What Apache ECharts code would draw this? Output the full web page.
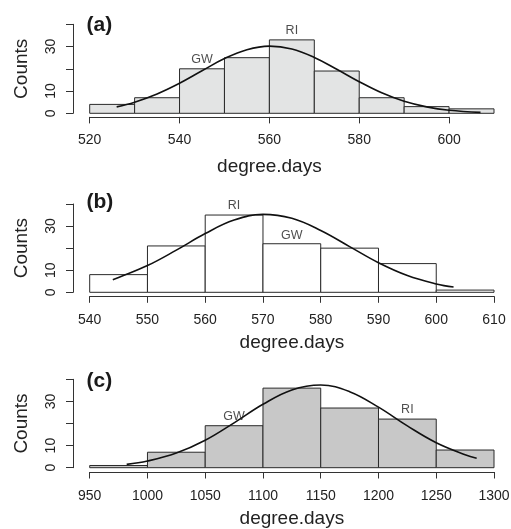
<!DOCTYPE html>
<html>
<head>
<meta charset="utf-8">
<script src="https://cdn.jsdelivr.net/npm/echarts@6/dist/echarts.min.js"></script>
<style>
html,body{margin:0;padding:0;background:#fff;}
#chart{width:511px;height:529px;}
</style>
</head>
<body>
<div id="chart"></div>
<script>
// ---- Data ----
// Panel (a)
const binsA   = [520, 530, 540, 550, 560, 570, 580, 590, 600, 610];
const countsA = [4, 7, 20, 25, 33, 19, 7, 3, 2];
const curveXA = [526, 530, 535, 540, 545, 550, 555, 560, 565, 570, 575, 580, 585, 590, 595, 600, 607];
const curveYA = [2.9, 5.0, 8.7, 13.5, 19.1, 24.6, 28.6, 30.2, 28.9, 25.1, 19.8, 14.2, 9.2, 5.4, 2.9, 1.4, 0.4];
const notesA  = [{name: 'GW', x: 545, y: 24}, {name: 'RI', x: 565, y: 37.1}];
const ticksA  = [520, 540, 560, 580, 600];

// Panel (b)
const binsB   = [540, 550, 560, 570, 580, 590, 600, 610];
const countsB = [8, 21, 35, 22, 20, 13, 1];
const curveXB = [544, 545, 550, 555, 560, 565, 570, 575, 580, 585, 590, 595, 600, 603];
const curveYB = [5.7, 6.7, 12.1, 19.1, 26.6, 32.7, 35.3, 33.5, 28.0, 20.7, 13.4, 7.6, 3.8, 2.4];
const notesB  = [{name: 'RI', x: 565, y: 39.2}, {name: 'GW', x: 575, y: 25.9}];
const ticksB  = [540, 550, 560, 570, 580, 590, 600, 610];

// Panel (c)
const binsC   = [950, 1000, 1050, 1100, 1150, 1200, 1250, 1300];
const countsC = [1, 7, 19, 36, 27, 22, 8];
const curveXC = [982, 1000, 1025, 1050, 1075, 1100, 1125, 1150, 1175, 1200, 1225, 1250, 1275, 1285];
const curveYC = [1.5, 3.0, 6.6, 12.4, 20.3, 28.7, 35.2, 37.4, 34.4, 27.4, 18.9, 11.3, 5.9, 4.3];
const notesC  = [{name: 'GW', x: 1075, y: 23.1}, {name: 'RI', x: 1225, y: 26.1}];
const ticksC  = [950, 1000, 1050, 1100, 1150, 1200, 1250, 1300];

const yTicks = [0, 10, 20, 30, 40];
const yLabelsShown = [0, 10, 30];
const panelLabels = ['(a)', '(b)', '(c)'];
const xTitle = 'degree.days';
const yTitle = 'Counts';

// ---- Layout / style (not data) ----
const FONT = 'Liberation Sans, Arial, Helvetica, sans-serif';
const TXT = '#222';
const AX = '#333';
const plotLeft = 89.7, plotRight = 494;
const layout = [
  {top: 24.3, bottom: 113.3, axisOffset: 3.6, fill: '#e3e4e4', labelY: 25.5, lblMargin: 16.5, nameGap: 40},
  {top: 204,  bottom: 292.3, axisOffset: 4.0, fill: '#ffffff', labelY: 202.5, lblMargin: 17, nameGap: 37},
  {top: 379.3, bottom: 467.7, axisOffset: 4.3, fill: '#c8c8c8', labelY: 381, lblMargin: 17.5, nameGap: 37.5}
];
const panels = [
  {bins: binsA, counts: countsA, cx: curveXA, cy: curveYA, notes: notesA, ticks: ticksA},
  {bins: binsB, counts: countsB, cx: curveXB, cy: curveYB, notes: notesB, ticks: ticksB},
  {bins: binsC, counts: countsC, cx: curveXC, cy: curveYC, notes: notesC, ticks: ticksC}
];

const grid = [], xAxis = [], yAxis = [], series = [], graphic = [];

panels.forEach((p, i) => {
  const L = layout[i];
  const dMin = p.bins[0], dMax = p.bins[p.bins.length - 1];
  const aMin = p.ticks[0], aMax = p.ticks[p.ticks.length - 1];
  const interval = p.ticks[1] - p.ticks[0];
  const pxPerUnit = (plotRight - plotLeft) / (dMax - dMin);
  const axisWidth = (aMax - aMin) * pxPerUnit;
  const h = L.bottom - L.top;

  grid.push({left: plotLeft, width: plotRight - plotLeft, top: L.top, height: h, outerBoundsMode: 'none', containLabel: false});
  grid.push({left: plotLeft, width: axisWidth, top: L.top, height: h, outerBoundsMode: 'none', containLabel: false});

  const gD = 2 * i, gA = 2 * i + 1;

  xAxis.push({gridIndex: gD, type: 'value', min: dMin, max: dMax, show: false});
  xAxis.push({
    gridIndex: gA, type: 'value', min: aMin, max: aMax, interval: interval,
    offset: L.axisOffset,
    axisLine: {show: true, onZero: false, lineStyle: {color: AX, width: 1}},
    axisTick: {show: true, length: 6.5, lineStyle: {color: AX, width: 1}},
    axisLabel: {show: true, fontSize: 14, fontFamily: FONT, color: TXT, margin: L.lblMargin,
      showMinLabel: true, showMaxLabel: true, hideOverlap: false, formatter: v => String(v)},
    splitLine: {show: false},
    name: xTitle, nameLocation: 'middle', nameGap: L.nameGap,
    nameTextStyle: {fontSize: 19, fontFamily: FONT, color: TXT}
  });

  yAxis.push({
    gridIndex: gD, type: 'value', min: yTicks[0], max: yTicks[yTicks.length - 1],
    interval: yTicks[1] - yTicks[0],
    offset: 16.7,
    axisLine: {show: true, onZero: false, lineStyle: {color: AX, width: 1}},
    axisTick: {show: true, length: 7, lineStyle: {color: AX, width: 1}},
    axisLabel: {
      show: true, rotate: 90, fontSize: 14, fontFamily: FONT, color: TXT, margin: 14.5,
      showMinLabel: true, showMaxLabel: true, hideOverlap: false,
      formatter: v => (yLabelsShown.indexOf(v) >= 0 ? String(v) : '')
    },
    splitLine: {show: false},
    name: yTitle, nameLocation: 'middle', nameRotate: 90, nameGap: 42,
    nameTextStyle: {fontSize: 19, fontFamily: FONT, color: TXT}
  });
  yAxis.push({gridIndex: gA, type: 'value', min: 0, max: 40, show: false});

  const barData = p.counts.map((c, k) => [p.bins[k], p.bins[k + 1], c]);
  series.push({
    type: 'custom', xAxisIndex: gD, yAxisIndex: gD,
    data: barData,
    encode: {x: [0, 1], y: 2},
    renderItem: (params, api) => {
      const p0 = api.coord([api.value(0), 0]);
      const p1 = api.coord([api.value(1), api.value(2)]);
      return {
        type: 'rect',
        shape: {x: p0[0], y: p1[1], width: p1[0] - p0[0], height: p0[1] - p1[1]},
        style: {fill: L.fill, stroke: '#2a2a2a', lineWidth: 1}
      };
    },
    silent: true, z: 2
  });

  series.push({
    type: 'line', xAxisIndex: gD, yAxisIndex: gD,
    data: p.cx.map((x, k) => [x, p.cy[k]]),
    smooth: 0.4, showSymbol: false, symbol: 'none',
    lineStyle: {color: '#111', width: 1.6},
    silent: true, z: 4
  });

  series.push({
    type: 'scatter', xAxisIndex: gD, yAxisIndex: gD,
    data: p.notes.map(n => ({name: n.name, value: [n.x, n.y]})),
    symbolSize: 1, itemStyle: {color: 'rgba(0,0,0,0)'},
    label: {show: true, position: 'inside', formatter: q => q.name, fontSize: 12.5, fontFamily: FONT, color: TXT},
    silent: true, z: 5
  });

  graphic.push({
    type: 'text', x: 86.5, y: L.labelY,
    style: {text: panelLabels[i], font: 'bold 21px ' + FONT, fill: '#1a1a1a', verticalAlign: 'middle', align: 'left'}
  });
});

const chart = echarts.init(document.getElementById('chart'), null, {renderer: 'canvas'});
chart.setOption({
  animation: false,
  backgroundColor: '#fff',
  grid, xAxis, yAxis, series, graphic
});
</script>
</body>
</html>
